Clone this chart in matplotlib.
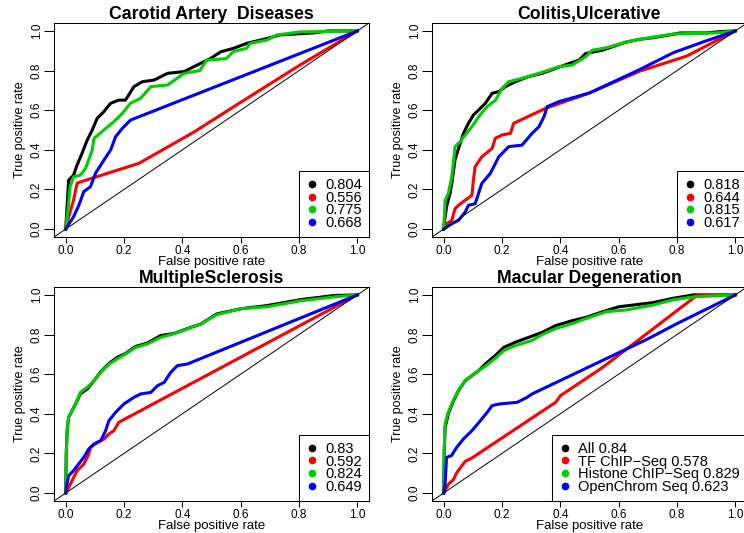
import matplotlib
matplotlib.use('Agg')
import matplotlib.pyplot as plt
from matplotlib.lines import Line2D

plt.rcParams['font.family'] = ['Liberation Sans', 'DejaVu Sans']
NARROW = ['Liberation Sans Narrow', 'Liberation Sans', 'DejaVu Sans']

# R default palette: All, TF ChIP-Seq, Histone ChIP-Seq, OpenChrom Seq
series_colors = ['black', '#FF0000', '#00CD00', '#0000FF']
tick_values = [0.0, 0.2, 0.4, 0.6, 0.8, 1.0]
tick_labels = ['0.0', '0.2', '0.4', '0.6', '0.8', '1.0']
panel_titles = ['Carotid Artery  Diseases', 'Colitis,Ulcerative',
                'MultipleSclerosis', 'Macular Degeneration']

# ---- Carotid Artery Diseases ----
cad_all_fpr = [0, 0.005, 0.01, 0.027, 0.039, 0.056, 0.074, 0.091, 0.108, 0.131, 0.154, 0.182, 0.205,
               0.234, 0.263, 0.303, 0.349, 0.406, 0.451, 0.497, 0.532, 0.575, 0.62, 0.69, 0.735, 0.85, 0.9, 1.0]
cad_all_tpr = [0, 0.12, 0.247, 0.272, 0.323, 0.382, 0.45, 0.5, 0.559, 0.593, 0.635, 0.651, 0.651,
               0.719, 0.744, 0.752, 0.786, 0.795, 0.828, 0.862, 0.895, 0.912, 0.937, 0.962, 0.98, 0.99, 1.0, 1.0]
cad_tf_fpr = [0, 0.01, 0.027, 0.039, 0.046, 0.251, 0.44, 0.6, 0.8, 1.0]
cad_tf_tpr = [0, 0.06, 0.146, 0.231, 0.236, 0.332, 0.49, 0.64, 0.825, 1.0]
cad_hist_fpr = [0, 0.008, 0.015, 0.027, 0.05, 0.068, 0.091, 0.097, 0.131, 0.165, 0.194, 0.222, 0.257,
                0.292, 0.349, 0.406, 0.46, 0.483, 0.55, 0.575, 0.62, 0.632, 0.69, 0.724, 0.804, 1.0]
cad_hist_tpr = [0, 0.1, 0.213, 0.264, 0.272, 0.306, 0.399, 0.458, 0.5, 0.542, 0.584, 0.635, 0.66,
                0.719, 0.727, 0.786, 0.80, 0.853, 0.86, 0.896, 0.912, 0.937, 0.954, 0.98, 0.995, 1.0]
cad_open_fpr = [0, 0.005, 0.027, 0.045, 0.062, 0.085, 0.102, 0.131, 0.154, 0.171, 0.194, 0.222, 1.0]
cad_open_tpr = [0, 0.012, 0.062, 0.12, 0.189, 0.214, 0.281, 0.348, 0.399, 0.466, 0.508, 0.55, 1.0]
cad_auc = ['0.804', '0.556', '0.775', '0.668']

# ---- Colitis, Ulcerative ----
uc_all_fpr = [0, 0.005, 0.01, 0.022, 0.028, 0.039, 0.051, 0.068, 0.085, 0.102, 0.12, 0.143, 0.166, 0.189,
              0.212, 0.246, 0.292, 0.338, 0.384, 0.43, 0.464, 0.487, 0.545, 0.626, 0.672, 0.718, 0.787,
              0.81, 0.9, 0.95, 1.0]
uc_all_tpr = [0, 0.06, 0.113, 0.18, 0.23, 0.349, 0.407, 0.483, 0.534, 0.576, 0.601, 0.635, 0.685, 0.694,
              0.719, 0.744, 0.77, 0.786, 0.811, 0.836, 0.853, 0.886, 0.903, 0.944, 0.958, 0.966, 0.983,
              0.99, 0.99, 0.997, 1.0]
uc_tf_fpr = [0, 0.01, 0.028, 0.039, 0.051, 0.074, 0.097, 0.102, 0.108, 0.131, 0.166, 0.177, 0.2, 0.229,
             0.24, 0.349, 0.5, 0.672, 0.833, 0.9, 1.0]
uc_tf_tpr = [0, 0.027, 0.044, 0.103, 0.12, 0.146, 0.171, 0.247, 0.315, 0.365, 0.407, 0.458, 0.475, 0.483,
             0.534, 0.609, 0.687, 0.797, 0.873, 0.924, 1.0]
uc_hist_fpr = [0, 0.005, 0.016, 0.028, 0.039, 0.056, 0.074, 0.097, 0.12, 0.149, 0.178, 0.2, 0.223, 0.269,
               0.327, 0.361, 0.395, 0.441, 0.487, 0.51, 0.557, 0.626, 0.672, 0.787, 0.93, 1.0]
uc_hist_tpr = [0, 0.146, 0.18, 0.264, 0.416, 0.441, 0.475, 0.517, 0.567, 0.618, 0.651, 0.71, 0.744, 0.761,
               0.786, 0.803, 0.82, 0.828, 0.87, 0.903, 0.915, 0.944, 0.958, 0.985, 0.99, 1.0]
uc_open_fpr = [0, 0.028, 0.051, 0.074, 0.085, 0.108, 0.131, 0.16, 0.189, 0.223, 0.269, 0.303, 0.327,
               0.344, 0.355, 0.395, 0.5, 0.672, 0.787, 0.9, 1.0]
uc_open_tpr = [0, 0.027, 0.044, 0.086, 0.12, 0.128, 0.231, 0.281, 0.365, 0.416, 0.424, 0.483, 0.517,
               0.567, 0.618, 0.643, 0.687, 0.805, 0.89, 0.95, 1.0]
uc_auc = ['0.818', '0.644', '0.815', '0.617']

# ---- Multiple Sclerosis ----
ms_all_fpr = [0, 0.002, 0.005, 0.01, 0.022, 0.034, 0.05, 0.074, 0.097, 0.12, 0.149, 0.177, 0.206, 0.24,
              0.28, 0.326, 0.371, 0.417, 0.463, 0.518, 0.6, 0.69, 0.805, 0.92, 1.0]
ms_all_tpr = [0, 0.2, 0.315, 0.382, 0.416, 0.45, 0.5, 0.525, 0.567, 0.612, 0.655, 0.685, 0.705, 0.74,
              0.757, 0.795, 0.805, 0.83, 0.853, 0.904, 0.93, 0.946, 0.976, 0.997, 1.0]
ms_tf_fpr = [0, 0.01, 0.027, 0.039, 0.062, 0.079, 0.085, 0.108, 0.131, 0.148, 0.165, 0.182, 1.0]
ms_tf_tpr = [0, 0.027, 0.078, 0.113, 0.146, 0.197, 0.231, 0.256, 0.272, 0.298, 0.315, 0.357, 1.0]
ms_hist_fpr = [0, 0.002, 0.005, 0.01, 0.022, 0.034, 0.05, 0.074, 0.097, 0.12, 0.149, 0.177, 0.206, 0.24,
               0.28, 0.326, 0.371, 0.417, 0.463, 0.518, 0.6, 0.69, 0.805, 0.92, 1.0]
ms_hist_tpr = [0, 0.2, 0.315, 0.382, 0.416, 0.45, 0.508, 0.534, 0.567, 0.609, 0.651, 0.677, 0.702, 0.735,
               0.752, 0.786, 0.803, 0.828, 0.853, 0.9, 0.93, 0.94, 0.97, 0.99, 1.0]
ms_open_fpr = [0, 0.005, 0.01, 0.027, 0.044, 0.062, 0.079, 0.097, 0.12, 0.137, 0.148, 0.171, 0.2, 0.234,
               0.257, 0.292, 0.315, 0.338, 0.36, 0.383, 0.417, 1.0]
ms_open_tpr = [0, 0.05, 0.087, 0.113, 0.146, 0.18, 0.222, 0.247, 0.264, 0.315, 0.365, 0.407, 0.45, 0.483,
               0.5, 0.508, 0.542, 0.559, 0.609, 0.643, 0.651, 1.0]
ms_auc = ['0.83', '0.592', '0.824', '0.649']

# ---- Macular Degeneration ----
amd_all_fpr = [0, 0.002, 0.005, 0.016, 0.034, 0.051, 0.074, 0.097, 0.12, 0.143, 0.177, 0.206, 0.246, 0.292,
               0.338, 0.384, 0.441, 0.487, 0.545, 0.6, 0.718, 0.787, 0.856, 1.0]
amd_all_tpr = [0, 0.2, 0.33, 0.4, 0.466, 0.517, 0.567, 0.593, 0.618, 0.651, 0.694, 0.735, 0.761, 0.786,
               0.811, 0.845, 0.87, 0.886, 0.915, 0.94, 0.961, 0.983, 1.0, 1.0]
amd_tf_fpr = [0, 0.016, 0.034, 0.045, 0.074, 0.097, 0.384, 0.401, 0.545, 0.866, 1.0]
amd_tf_tpr = [0, 0.044, 0.069, 0.103, 0.16, 0.177, 0.458, 0.492, 0.634, 0.995, 1.0]
amd_hist_fpr = [0, 0.002, 0.005, 0.016, 0.034, 0.051, 0.074, 0.097, 0.12, 0.143, 0.177, 0.206, 0.246,
                0.303, 0.338, 0.384, 0.441, 0.487, 0.557, 0.626, 0.718, 0.787, 0.856, 1.0]
amd_hist_tpr = [0, 0.22, 0.35, 0.41, 0.47, 0.52, 0.567, 0.593, 0.618, 0.64, 0.68, 0.719, 0.744,
                0.77, 0.8, 0.83, 0.855, 0.88, 0.915, 0.924, 0.949, 0.975, 0.99, 1.0]
amd_open_fpr = [0, 0.005, 0.01, 0.027, 0.045, 0.068, 0.097, 0.126, 0.149, 0.166, 0.189, 0.252, 0.286,
                0.303, 0.7, 0.8, 1.0]
amd_open_tpr = [0, 0.044, 0.18, 0.189, 0.231, 0.273, 0.315, 0.365, 0.407, 0.441, 0.449, 0.458, 0.483,
                0.5, 0.778, 0.855, 1.0]
amd_auc = ['All 0.84', 'TF ChIP\u2212Seq 0.578', 'Histone ChIP\u2212Seq 0.829', 'OpenChrom Seq 0.623']


def draw_panel(ax, title, curves, labels):
	for (fpr, tpr), col in zip(curves, series_colors):
		ax.plot(fpr, tpr, color=col, lw=2.2, solid_joinstyle='round')
	ax.axline((0, 0), (1, 1), color='black', lw=0.7)	# abline(0, 1)

	ax.set_xlim(-0.04, 1.04)
	ax.set_ylim(-0.04, 1.04)
	ax.set_xticks(tick_values)
	ax.set_xticklabels(tick_labels, fontsize=8.5)
	ax.set_yticks(tick_values)
	ax.set_yticklabels(tick_labels, rotation=90, va='center', fontsize=8.5, family=NARROW)
	ax.tick_params(axis='x', direction='out', length=4.5, width=0.75, pad=1)
	ax.tick_params(axis='y', direction='out', length=7, width=0.75, pad=1)
	for sp in ax.spines.values():
		sp.set_linewidth(0.75)

	ax.set_title(title, fontsize=12.7, fontweight='bold', pad=3)
	ax.set_xlabel('False positive rate', fontsize=9.5)
	ax.xaxis.set_label_coords(0.5, -0.088)
	ax.set_ylabel('True positive rate', fontsize=9, family=NARROW)
	ax.yaxis.set_label_coords(-0.089, 0.5)

	handles = [Line2D([], [], ls='none', marker='o', ms=4.5, color=c) for c in series_colors]
	leg = ax.legend(handles, labels, loc='lower right', borderaxespad=0, fontsize=10.5,
					handlelength=0.8, handletextpad=0.5, borderpad=0.5, labelspacing=-0.1,
					fancybox=False, framealpha=1)
	leg.get_frame().set_edgecolor('black')
	leg.get_frame().set_linewidth(0.75)


fig = plt.figure(figsize=(7.44, 5.33), dpi=100)
panel_pos = [[0.0726, 0.5553, 0.4234, 0.4015],
			 [0.5806, 0.5553, 0.4234, 0.4015],
			 [0.0726, 0.0601, 0.4234, 0.4015],
			 [0.5806, 0.0601, 0.4234, 0.4015]]
panel_curves = [
	[(cad_all_fpr, cad_all_tpr), (cad_tf_fpr, cad_tf_tpr), (cad_hist_fpr, cad_hist_tpr), (cad_open_fpr, cad_open_tpr)],
	[(uc_all_fpr, uc_all_tpr), (uc_tf_fpr, uc_tf_tpr), (uc_hist_fpr, uc_hist_tpr), (uc_open_fpr, uc_open_tpr)],
	[(ms_all_fpr, ms_all_tpr), (ms_tf_fpr, ms_tf_tpr), (ms_hist_fpr, ms_hist_tpr), (ms_open_fpr, ms_open_tpr)],
	[(amd_all_fpr, amd_all_tpr), (amd_tf_fpr, amd_tf_tpr), (amd_hist_fpr, amd_hist_tpr), (amd_open_fpr, amd_open_tpr)],
]
panel_labels = [cad_auc, uc_auc, ms_auc, amd_auc]

for pos, title, curves, labels in zip(panel_pos, panel_titles, panel_curves, panel_labels):
	ax = fig.add_axes(pos)
	draw_panel(ax, title, curves, labels)

fig.savefig('out.png', dpi=100)
